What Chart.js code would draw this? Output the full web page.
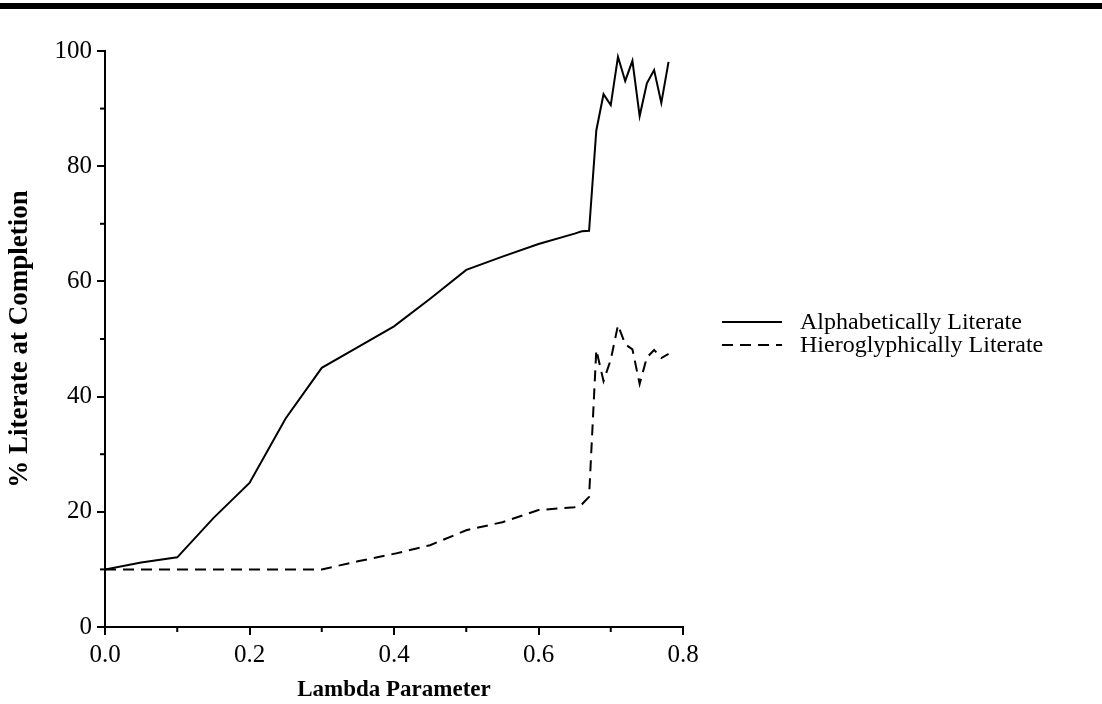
<!DOCTYPE html>
<html>
<head>
<meta charset="utf-8">
<script src="https://cdn.jsdelivr.net/npm/chart.js@4/dist/chart.umd.min.js"></script>
<style>
  html, body { margin: 0; padding: 0; background: #fff; }
  #wrap { position: relative; width: 1102px; height: 704px; }
  #topbar { position: absolute; left: 0; top: 3px; width: 1102px; height: 6px; background: #000; }
</style>
</head>
<body>
<div id="wrap">
  <div id="topbar"></div>
  <canvas id="c" width="1102" height="704"></canvas>
</div>
<script>
const lambdaX = [0, 0.05, 0.1, 0.15, 0.2, 0.25, 0.3, 0.35, 0.4, 0.45, 0.5, 0.55, 0.6, 0.65, 0.66, 0.67, 0.68, 0.69, 0.7, 0.71, 0.72, 0.73, 0.74, 0.75, 0.76, 0.77, 0.78];
const alphabetic = [10, 11.2, 12.1, 18.9, 25, 36.2, 45, 48.6, 52.2, 57, 62, 64.3, 66.5, 68.3, 68.7, 68.8, 86.2, 92.5, 90.6, 99, 94.8, 98.3, 88.7, 94.4, 96.7, 91, 98.1];
const hieroglyphic = [10, 10, 10, 10, 10, 10, 10, 11.4, 12.7, 14.2, 16.8, 18.2, 20.3, 20.8, 21.3, 22.6, 48.1, 42.7, 46.4, 52.4, 49.1, 48.2, 42.2, 46.8, 48.1, 46.7, 47.4];
const seriesNames = ['Alphabetically Literate', 'Hieroglyphically Literate'];
const xTitle = 'Lambda Parameter';
const yTitle = '% Literate at Completion';
const xMajor = [0, 0.2, 0.4, 0.6, 0.8];
const xMinor = [0.1, 0.3, 0.5, 0.7];
const yMajor = [0, 20, 40, 60, 80, 100];
const yMinor = [10, 30, 50, 70, 90];

const SERIF = '"Liberation Serif", "Times New Roman", serif';
const TICK_FONT = 25;
const X_TITLE_FONT = 23;
const Y_TITLE_FONT = 27;
const LEGEND_FONT = 24;

const DASH = [11, 7];

const decor = {
  id: 'decor',
  afterDraw(chart) {
    const ctx = chart.ctx;
    const xs = chart.scales.x, ys = chart.scales.y;
    const area = chart.chartArea;
    ctx.save();
    ctx.strokeStyle = '#000';
    ctx.lineWidth = 2;
    // minor ticks
    xMinor.forEach(v => {
      const px = xs.getPixelForValue(v);
      ctx.beginPath(); ctx.moveTo(px, area.bottom); ctx.lineTo(px, area.bottom + 5); ctx.stroke();
    });
    yMinor.forEach(v => {
      const py = ys.getPixelForValue(v);
      ctx.beginPath(); ctx.moveTo(area.left, py); ctx.lineTo(area.left - 5, py); ctx.stroke();
    });
    // titles
    ctx.fillStyle = '#000';
    ctx.textAlign = 'center';
    ctx.textBaseline = 'middle';
    ctx.font = 'bold ' + X_TITLE_FONT + 'px ' + SERIF;
    ctx.fillText(xTitle, (area.left + area.right) / 2, 690);
    ctx.save();
    ctx.font = 'bold ' + Y_TITLE_FONT + 'px ' + SERIF;
    ctx.translate(20, (area.top + area.bottom) / 2);
    ctx.rotate(-Math.PI / 2);
    ctx.fillText(yTitle, 0, 0);
    ctx.restore();
    // legend
    ctx.font = LEGEND_FONT + 'px ' + SERIF;
    ctx.textAlign = 'left';
    const rows = [322, 345];
    rows.forEach((ry, i) => {
      ctx.beginPath();
      ctx.lineWidth = 2;
      ctx.setLineDash(i === 0 ? [] : DASH);
      ctx.moveTo(722, ry); ctx.lineTo(782, ry); ctx.stroke();
      ctx.setLineDash([]);
      ctx.fillText(seriesNames[i], 800, ry + 1);
    });
    ctx.restore();
  }
};

new Chart(document.getElementById('c'), {
  type: 'line',
  data: {
    datasets: [
      { label: seriesNames[0], data: lambdaX.map((x, i) => ({ x, y: alphabetic[i] })), borderColor: '#000', borderWidth: 2, pointRadius: 0, tension: 0, fill: false },
      { label: seriesNames[1], data: lambdaX.map((x, i) => ({ x, y: hieroglyphic[i] })), borderColor: '#000', borderWidth: 2, borderDash: DASH, pointRadius: 0, tension: 0, fill: false }
    ]
  },
  options: {
    responsive: false,
    animation: false,
    events: [],
    layout: { padding: { left: 0, right: 419, top: 51, bottom: 0 } },
    plugins: { legend: { display: false }, tooltip: { enabled: false } },
    scales: {
      x: {
        type: 'linear', min: 0, max: 0.8,
        afterBuildTicks(s) { s.ticks = xMajor.map(v => ({ value: v })); },
        afterFit(s) { s.height = 77; },
        border: { display: true, color: '#000', width: 2 },
        grid: { drawOnChartArea: false, drawTicks: true, tickLength: 8, color: '#000', lineWidth: 2 },
        ticks: { color: '#000', font: { family: SERIF, size: TICK_FONT }, padding: 5, callback: v => v.toFixed(1), maxRotation: 0 }
      },
      y: {
        type: 'linear', min: 0, max: 100,
        afterBuildTicks(s) { s.ticks = yMajor.map(v => ({ value: v })); },
        afterFit(s) { s.width = 105; },
        border: { display: true, color: '#000', width: 2 },
        grid: { drawOnChartArea: false, drawTicks: true, tickLength: 8, color: '#000', lineWidth: 2 },
        ticks: { color: '#000', font: { family: SERIF, size: TICK_FONT }, padding: 5, callback: v => String(v) }
      }
    }
  },
  plugins: [decor]
});
</script>
</body>
</html>
